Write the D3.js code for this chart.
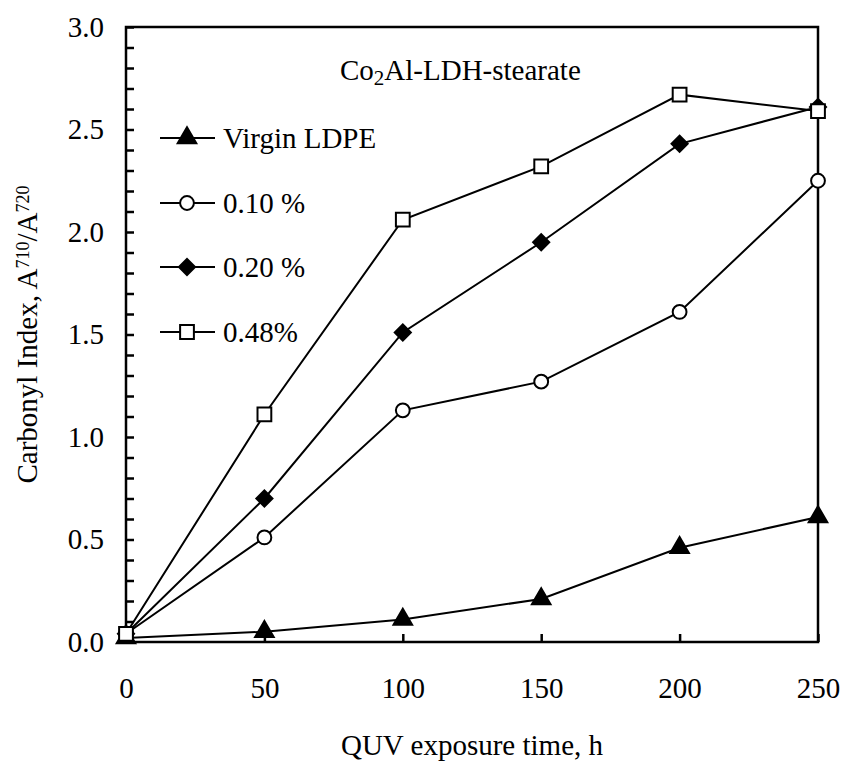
<!DOCTYPE html>
<html>
<head>
<meta charset="UTF-8">
<title>Carbonyl Index</title>
<script src="https://cdn.jsdelivr.net/npm/d3@7"></script>
<style>
  body { margin: 0; background: #fff; }
  text { font-family: "Liberation Serif", "Times New Roman", serif; fill: #000; }
</style>
</head>
<body>
<div id="chart"></div>
<script>
// exposure times (h)
const hours = [0, 50, 100, 150, 200, 250];

// carbonyl index per sample
const virgin = [0.02, 0.05, 0.11, 0.21, 0.46, 0.61];
const pct010 = [0.04, 0.51, 1.13, 1.27, 1.61, 2.25];
const pct020 = [0.04, 0.70, 1.51, 1.95, 2.43, 2.61];
const pct048 = [0.04, 1.11, 2.06, 2.32, 2.67, 2.59];

const seriesNames = ["Virgin LDPE", "0.10 %", "0.20 %", "0.48%"];
const xTicks = [0, 50, 100, 150, 200, 250];
const yTicks = [0, 0.5, 1.0, 1.5, 2.0, 2.5, 3.0];

const W = 848, H = 764;
const margin = { top: 27, right: 30, bottom: 122, left: 126 };

const svg = d3.select("#chart").append("svg")
    .attr("width", W)
    .attr("height", H);

const x = d3.scaleLinear().domain([0, 250]).range([margin.left, W - margin.right]);
const y = d3.scaleLinear().domain([0, 3]).range([H - margin.bottom, margin.top]);

// frame
svg.append("rect")
    .attr("x", x(0)).attr("y", y(3))
    .attr("width", x(250) - x(0)).attr("height", y(0) - y(3))
    .attr("fill", "none").attr("stroke", "#000").attr("stroke-width", 2.5);

// y axis: minor ticks each 0.1, labels on 0.5 steps
svg.append("g")
    .attr("transform", `translate(${x(0)},0)`)
    .call(d3.axisRight(y).tickValues(d3.range(0, 31).map(i => i / 10)).tickSize(8).tickFormat(""))
    .call(g => g.select(".domain").remove())
    .call(g => g.selectAll("line").attr("stroke-width", 2.5));

svg.append("g")
    .attr("transform", `translate(${x(0)},0)`)
    .call(d3.axisLeft(y).tickValues(yTicks).tickSize(0).tickPadding(22).tickFormat(d3.format(".1f")))
    .call(g => g.select(".domain").remove())
    .call(g => g.selectAll("text").style("font-size", "29px").style("font-family", "Liberation Serif"));

// x axis
svg.append("g")
    .attr("transform", `translate(0,${y(0)})`)
    .call(d3.axisTop(x).tickValues(xTicks).tickSize(8).tickFormat(""))
    .call(g => g.select(".domain").remove())
    .call(g => g.selectAll("line").attr("stroke-width", 2.5));

svg.append("g")
    .attr("transform", `translate(0,${y(0)})`)
    .call(d3.axisBottom(x).tickValues(xTicks).tickSize(0).tickPadding(35).tickFormat(d3.format("d")))
    .call(g => g.select(".domain").remove())
    .call(g => g.selectAll("text").style("font-size", "29px").style("font-family", "Liberation Serif"));

// axis titles
svg.append("text")
    .attr("x", (x(0) + x(250)) / 2)
    .attr("y", 755)
    .attr("text-anchor", "middle")
    .style("font-size", "29px")
    .text("QUV exposure time, h");

const yt = svg.append("text")
    .attr("transform", `translate(37,${(y(0) + y(3)) / 2}) rotate(-90)`)
    .attr("text-anchor", "middle")
    .style("font-size", "29px");
yt.append("tspan").text("Carbonyl Index, A");
yt.append("tspan").attr("dy", -8).style("font-size", "18px").text("710");
yt.append("tspan").attr("dy", 8).text("/A");
yt.append("tspan").attr("dy", -8).style("font-size", "18px").text("720");

// sample label
const lab = svg.append("text")
    .attr("x", 340).attr("y", 80)
    .style("font-size", "29px");
lab.append("tspan").text("Co");
lab.append("tspan").attr("dy", 5).style("font-size", "21px").text("2");
lab.append("tspan").attr("dy", -5).text("Al-LDH-stearate");

// marker shapes (diamond = square turned 45 degrees)
const shapes = [
    { sym: d3.symbolTriangle, size: 150, fill: "#000", rot: 0 },
    { sym: d3.symbolCircle, size: 150, fill: "#fff", rot: 0 },
    { sym: d3.symbolSquare, size: 130, fill: "#000", rot: 45 },
    { sym: d3.symbolSquare, size: 190, fill: "#fff", rot: 0 }
];
const allSeries = [virgin, pct010, pct020, pct048];

const line = d3.line()
    .x((d, i) => x(hours[i]))
    .y(d => y(d));

allSeries.forEach((vals, k) => {
    svg.append("path")
        .datum(vals)
        .attr("fill", "none")
        .attr("stroke", "#000")
        .attr("stroke-width", 2)
        .attr("d", line);
});

allSeries.forEach((vals, k) => {
    const s = shapes[k];
    svg.selectAll(".pt" + k)
        .data(vals)
        .join("path")
        .attr("class", "pt" + k)
        .attr("transform", (d, i) => `translate(${x(hours[i])},${y(d)}) rotate(${s.rot})`)
        .attr("d", d3.symbol().type(s.sym).size(s.size))
        .attr("fill", s.fill)
        .attr("stroke", "#000")
        .attr("stroke-width", 2);
});

// legend
const legY = [138, 203, 267, 332];
seriesNames.forEach((name, k) => {
    const g = svg.append("g").attr("transform", `translate(0,${legY[k]})`);
    g.append("line")
        .attr("x1", 160).attr("x2", 215)
        .attr("stroke", "#000").attr("stroke-width", 2);
    g.append("path")
        .attr("transform", `translate(187,0) rotate(${shapes[k].rot})`)
        .attr("d", d3.symbol().type(shapes[k].sym).size(shapes[k].size))
        .attr("fill", shapes[k].fill)
        .attr("stroke", "#000").attr("stroke-width", 2);
    g.append("text")
        .attr("x", 223).attr("y", 10)
        .style("font-size", "29px")
        .text(name);
});
</script>
</body>
</html>
